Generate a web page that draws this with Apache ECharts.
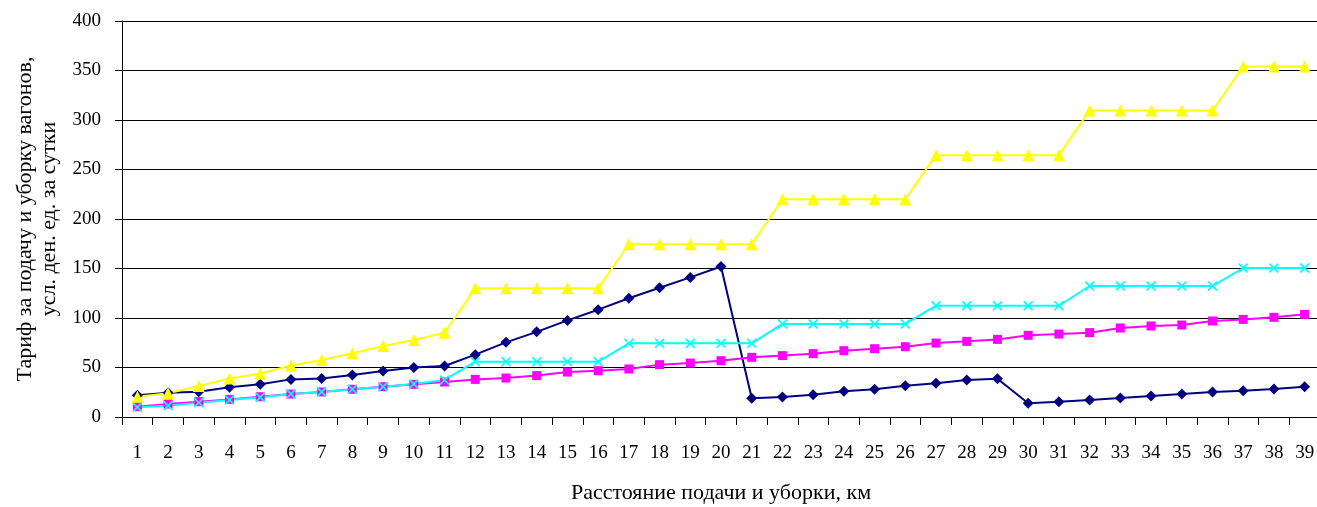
<!DOCTYPE html>
<html>
<head>
<meta charset="utf-8">
<script src="https://cdn.jsdelivr.net/npm/echarts@6/dist/echarts.min.js"></script>
<style>
html,body{margin:0;padding:0;background:#fff;}
#chart{width:1317px;height:507px;}
</style>
</head>
<body>
<div id="chart"></div>
<script>
const categories = ['1','2','3','4','5','6','7','8','9','10','11','12','13','14','15','16','17','18','19','20','21','22','23','24','25','26','27','28','29','30','31','32','33','34','35','36','37','38','39'];
const navySeries = [22,24.5,25.6,30,33,38,39,42.4,46.5,50,51.5,63,75.4,86,97.6,108.4,119.9,130.6,141,152,18.9,20.2,22.5,26,28,31.6,34,37.4,38.7,13.8,15.5,17.2,19.2,21.2,23.2,25.3,26.6,28.3,30.6];
const magentaSeries = [10.4,13.1,15.5,17.8,20.5,23.2,25.3,28,30.6,33,35.4,38,39.4,41.8,45.4,46.8,48.5,52.9,54.5,56.9,60.3,62,64,67,69,71,74.7,76.4,78.4,82.5,83.8,85.2,89.9,91.9,92.9,97,98.6,100.7,103.7];
const yellowSeries = [20.5,23.9,31.3,39,44,52,57.5,64.3,71.7,77.8,85.2,130,130,130,130,130,174.5,174.5,174.5,174.5,174.5,220,220,220,220,220,264.5,264.5,264.5,264.5,264.5,309.5,309.5,309.5,309.5,309.5,354,354,354];
const cyanSeries = [9.8,11.4,14.5,17.2,19.9,23.2,25.3,28,30.6,33.3,37.4,55.9,55.9,55.9,55.9,55.9,74.4,74.4,74.4,74.4,74.4,94,94,94,94,94,112.4,112.4,112.4,112.4,112.4,132.3,132.3,132.3,132.3,132.3,150.5,150.5,150.5];
const yTicks = {min:0, max:400, interval:50};

const FONT = '"Liberation Serif","Times New Roman",serif';
const crossPath = 'path://M0,1.2 L1.2,0 L5,3.8 L8.8,0 L10,1.2 L6.2,5 L10,8.8 L8.8,10 L5,6.2 L1.2,10 L0,8.8 L3.8,5 Z';

function mk(name, data, color, symbol, size){
  return {
    name: name, type:'line', data: data,
    symbol: symbol, symbolSize: size, showSymbol:true,
    lineStyle:{color:color, width:2},
    itemStyle:{color:color},
    emphasis:{disabled:true},
    animation:false
  };
}

const chart = echarts.init(document.getElementById('chart'));
chart.setOption({
  animation:false,
  backgroundColor:'#fff',
  grid:{left:122, top:21, width:1198, height:396, containLabel:false, outerBoundsMode:'none'},
  xAxis:{
    type:'category', data:categories, boundaryGap:true,
    name:'Расстояние подачи и уборки, км', nameLocation:'middle', nameGap:65,
    nameTextStyle:{fontFamily:FONT, fontSize:22, color:'#000'},
    axisLine:{show:true, lineStyle:{color:'#000', width:1}},
    axisTick:{show:true, alignWithLabel:false, interval:0, length:8, lineStyle:{color:'#000'}},
    axisLabel:{interval:0, fontFamily:FONT, fontSize:19, color:'#000', margin:27, hideOverlap:false},
    splitLine:{show:false}
  },
  yAxis:{
    type:'value', min:yTicks.min, max:yTicks.max, interval:yTicks.interval,
    name:'Тариф за подачу и уборку вагонов,\nусл. ден. ед. за сутки', nameLocation:'middle', nameGap:61, nameRotate:90,
    nameTextStyle:{fontFamily:FONT, fontSize:22, color:'#000', lineHeight:24},
    axisLine:{show:true, lineStyle:{color:'#000', width:1}},
    axisTick:{show:true, length:7, lineStyle:{color:'#000'}},
    axisLabel:{fontFamily:FONT, fontSize:19, color:'#000', margin:21},
    splitLine:{show:true, lineStyle:{color:'#000', width:1}}
  },
  series:[
    mk('s1', navySeries, '#000080', 'diamond', 11),
    mk('s2', magentaSeries, '#FF00FF', 'rect', 9),
    mk('s3', yellowSeries, '#FFFF00', 'triangle', 12),
    mk('s4', cyanSeries, '#00FFFF', crossPath, 10)
  ]
});
</script>
</body>
</html>
